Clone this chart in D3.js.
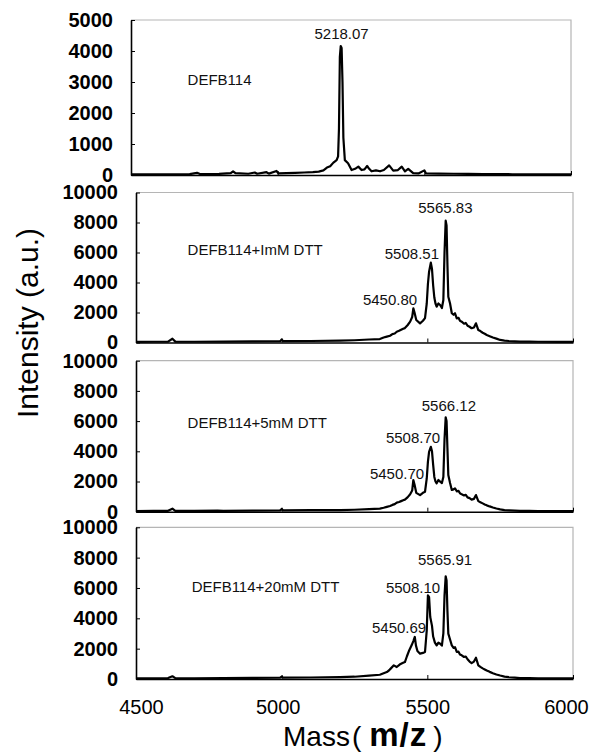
<!DOCTYPE html>
<html>
<head>
<meta charset="utf-8">
<script src="https://cdn.jsdelivr.net/npm/d3@7"></script>
<style>
  body { margin: 0; background: #fff; }
  svg { font-family: "Liberation Sans", Arial, sans-serif; }
  .ylab text { font-weight: bold; font-size: 20px; fill: #000; }
  .xlab text { font-size: 20px; fill: #000; }
  .note { font-size: 15px; fill: #111; }
</style>
</head>
<body>
<svg width="591" height="752"></svg>
<script>
// spectra, [m/z, intensity]
const defb = [
  [4500, 20], [4600, 25], [4700, 30], [4725, 70], [4735, 30], [4800, 35], [4840, 60], [4848, 120],
  [4856, 60], [4900, 40], [4922, 80], [4930, 40], [4962, 90], [4970, 45], [4996, 130], [5003, 50],
  [5030, 60], [5060, 70], [5090, 80], [5120, 90], [5140, 110], [5156, 150], [5168, 240], [5179, 280],
  [5190, 400], [5201, 480], [5206, 600], [5209, 1500], [5212, 3800], [5215, 4160], [5218, 4100],
  [5221, 3000], [5224, 1200], [5229, 480], [5240, 380], [5252, 160], [5264, 200], [5275, 270],
  [5286, 160], [5296, 180], [5305, 290], [5312, 200], [5320, 120], [5335, 150], [5349, 120],
  [5362, 160], [5380, 310], [5394, 140], [5410, 160], [5423, 270], [5434, 120], [5445, 200],
  [5462, 60], [5480, 50], [5500, 150], [5506, 50], [5550, 45], [5600, 40], [5650, 35], [5700, 30],
  [5760, 30], [5800, 25], [5850, 25], [5900, 20], [5950, 20], [6000, 20]
];
const dtt1 = [
  [4500, 40], [4560, 50], [4610, 60], [4625, 250], [4635, 60], [4700, 50], [4800, 60], [4900, 70],
  [4995, 90], [5000, 200], [5005, 90], [5100, 100], [5200, 120], [5250, 150], [5300, 200], [5337, 230],
  [5350, 330], [5361, 390], [5372, 450], [5380, 560], [5388, 600], [5395, 720], [5403, 780],
  [5410, 850], [5417, 920], [5423, 960], [5432, 1150], [5441, 1390], [5448, 1700],
  [5452, 2280], [5456, 2000], [5462, 1500], [5475, 1280], [5485, 1450], [5492, 1630], [5498, 2600],
  [5502, 3900], [5506, 4720], [5512, 5320], [5516, 4900], [5520, 3800], [5524, 3000], [5528, 2600],
  [5532, 2390], [5538, 2600], [5544, 2500], [5550, 2300], [5555, 2830], [5559, 6000], [5563, 8120],
  [5566, 7800], [5569, 5200], [5572, 3050], [5578, 2600], [5584, 1950], [5590, 1850], [5595, 1950],
  [5601, 1610], [5607, 1650], [5612, 1450], [5618, 1390], [5626, 1250], [5632, 1300], [5638, 1120],
  [5645, 1050], [5652, 950], [5660, 1000], [5667, 1280], [5675, 830], [5682, 760], [5690, 650],
  [5697, 580], [5704, 500], [5714, 420], [5725, 330], [5737, 260], [5750, 170], [5765, 130],
  [5780, 100], [5800, 80], [5818, 60], [5850, 55], [5880, 50], [5950, 40], [6000, 40]
];
const dtt5 = [
  [4500, 40], [4560, 50], [4610, 60], [4625, 200], [4635, 60], [4700, 50], [4780, 70], [4800, 60],
  [4900, 70], [4995, 90], [5000, 180], [5005, 90], [5100, 100], [5200, 110], [5250, 130], [5300, 170],
  [5337, 200], [5350, 260], [5361, 320], [5372, 380], [5380, 450], [5388, 500], [5395, 600],
  [5403, 640], [5410, 700], [5417, 760], [5423, 800], [5432, 950], [5441, 1150],
  [5448, 1400], [5452, 2100], [5456, 1800], [5462, 1250], [5475, 1100], [5485, 1250], [5492, 1320],
  [5498, 2200], [5502, 3300], [5506, 3970], [5512, 4300], [5516, 4000], [5520, 3100], [5524, 2300],
  [5528, 2000], [5532, 1880], [5538, 2100], [5544, 1990], [5550, 1900], [5555, 2300], [5559, 4800],
  [5563, 6250], [5566, 6000], [5569, 4200], [5572, 2430], [5578, 1900], [5584, 1440], [5590, 1480],
  [5595, 1550], [5601, 1350], [5607, 1380], [5612, 1220], [5618, 1150], [5626, 1080], [5632, 1120],
  [5638, 950], [5645, 900], [5652, 800], [5660, 850], [5667, 1100], [5675, 700], [5682, 630],
  [5690, 550], [5697, 480], [5704, 420], [5714, 350], [5725, 280], [5737, 210], [5750, 150],
  [5765, 110], [5780, 90], [5800, 70], [5818, 55], [5850, 50], [5880, 45], [5950, 40], [6000, 40]
];
const dtt20 = [
  [4500, 40], [4560, 50], [4610, 60], [4625, 180], [4635, 60], [4700, 50], [4800, 60], [4900, 70],
  [4995, 90], [5000, 160], [5005, 90], [5100, 100], [5200, 120], [5250, 150], [5300, 220], [5337, 280],
  [5350, 380], [5361, 460], [5368, 560], [5375, 700], [5385, 900], [5395, 790], [5405, 950],
  [5415, 1050], [5423, 1120], [5430, 1500], [5438, 1900], [5446, 2220], [5452, 2500], [5457, 2770],
  [5461, 2200], [5466, 1850], [5475, 1670], [5485, 1720], [5492, 1780], [5498, 3210], [5502, 5520],
  [5506, 5400], [5510, 4090], [5516, 3500], [5520, 2800], [5526, 2400], [5532, 2220], [5538, 2400],
  [5544, 2330], [5550, 2200], [5555, 3000], [5559, 5500], [5563, 6770], [5566, 6500], [5569, 4500],
  [5572, 2990], [5578, 2600], [5584, 2220], [5590, 2050], [5595, 2100], [5601, 1780], [5607, 1800],
  [5612, 1620], [5618, 1560], [5626, 1450], [5632, 1480], [5638, 1300], [5645, 1150], [5652, 1050],
  [5660, 1150], [5667, 1400], [5675, 900], [5682, 800], [5690, 700], [5697, 630], [5704, 560],
  [5714, 470], [5725, 380], [5737, 300], [5750, 230], [5765, 160], [5780, 120], [5800, 90],
  [5818, 60], [5850, 55], [5880, 50], [5950, 40], [6000, 40]
];

const samples = ["DEFB114", "DEFB114+ImM DTT", "DEFB114+5mM DTT", "DEFB114+20mM DTT"];
const yMax = [5000, 10000, 10000, 10000];
const yTicks = [
  [0, 1000, 2000, 3000, 4000, 5000],
  [0, 2000, 4000, 6000, 8000, 10000],
  [0, 2000, 4000, 6000, 8000, 10000],
  [0, 2000, 4000, 6000, 8000, 10000]
];
const xTicks = [4500, 5000, 5500, 6000];
// peak labels: text, m/z at label centre, intensity at label baseline
const peakLabels = [
  [["5218.07", 5218, 4390]],
  [["5565.83", 5562, 8630], ["5508.51", 5447, 5570], ["5450.80", 5372, 2500]],
  [["5566.12", 5574, 6690], ["5508.70", 5451, 4530], ["5450.70", 5396, 2150]],
  [["5565.91", 5561, 7520], ["5508.10", 5451, 5650], ["5450.69", 5403, 3010]]
];
// sample name: m/z at text start, intensity at baseline
const namePos = [[4693, 2900], [4677, 5830], [4677, 5540], [4691, 5760]];
const spectra = [defb, dtt1, dtt5, dtt20];

const svg = d3.select("svg");

// panel boxes in pixels
const boxes = [
  { left: 131, right: 571, top: 20, bottom: 175 },
  { left: 136, right: 573, top: 192.5, bottom: 342.5 },
  { left: 136, right: 573, top: 360.7, bottom: 511.7 },
  { left: 136, right: 573, top: 527.3, bottom: 679 }
];

boxes.forEach((b, i) => {
  const x = d3.scaleLinear().domain([4500, 6000]).range([b.left, b.right]);
  const y = d3.scaleLinear().domain([0, yMax[i]]).range([b.bottom, b.top]);
  const g = svg.append("g");

  // grey top / right frame
  g.append("path")
    .attr("d", `M${b.left},${b.top}H${b.right}V${b.bottom}`)
    .attr("fill", "none")
    .attr("stroke", "#b5b5b5")
    .attr("stroke-width", 1.2);

  const xa = d3.axisBottom(x).tickValues(xTicks).tickFormat(d3.format("d"))
    .tickSizeInner(-4).tickSizeOuter(0).tickPadding(21);
  if (i < 3) xa.tickFormat("");
  g.append("g")
    .attr("class", "xlab")
    .attr("transform", `translate(0,${b.bottom})`)
    .call(xa)
    .call((s) => s.select(".domain").attr("stroke-width", 1.6))
    .call((s) => s.selectAll("text").attr("dx", (d) => (d === 6000 ? -7 : d === 4500 ? 5 : d === 5000 ? -4 : 0)));

  g.append("g")
    .attr("class", "ylab")
    .attr("transform", `translate(${b.left},0)`)
    .call(d3.axisLeft(y).tickValues(yTicks[i]).tickFormat(d3.format("d")).tickSizeInner(-4).tickSizeOuter(0).tickPadding(18))
    .call((s) => s.select(".domain").attr("stroke-width", 1.6));

  const line = d3.line().x((d) => x(d[0])).y((d) => y(d[1]));
  g.append("path")
    .datum(spectra[i])
    .attr("d", line)
    .attr("fill", "none")
    .attr("stroke", "#000")
    .attr("stroke-width", 2.2)
    .attr("stroke-linejoin", "round");

  g.append("text")
    .attr("class", "note")
    .attr("x", x(namePos[i][0]))
    .attr("y", y(namePos[i][1]))
    .text(samples[i]);

  g.selectAll("text.peak")
    .data(peakLabels[i])
    .enter()
    .append("text")
    .attr("class", "note peak")
    .attr("text-anchor", "middle")
    .attr("x", (d) => x(d[1]))
    .attr("y", (d) => y(d[2]))
    .text((d) => d[0]);
});

svg.append("text")
  .attr("transform", "translate(38,323) rotate(-90)")
  .attr("text-anchor", "middle")
  .style("font-size", "30px")
  .text("Intensity (a.u.)");

const xt = svg.append("text")
  .attr("x", 283)
  .attr("y", 746)
  .style("font-size", "28px");
xt.append("tspan").text("Mass");
xt.append("tspan").attr("dx", 2).text("(");
xt.append("tspan").attr("dx", 8).style("font-weight", "bold").style("font-size", "33px").style("letter-spacing", "1px").text("m/z");
xt.append("tspan").attr("dx", 6).text(")");
</script>
</body>
</html>
